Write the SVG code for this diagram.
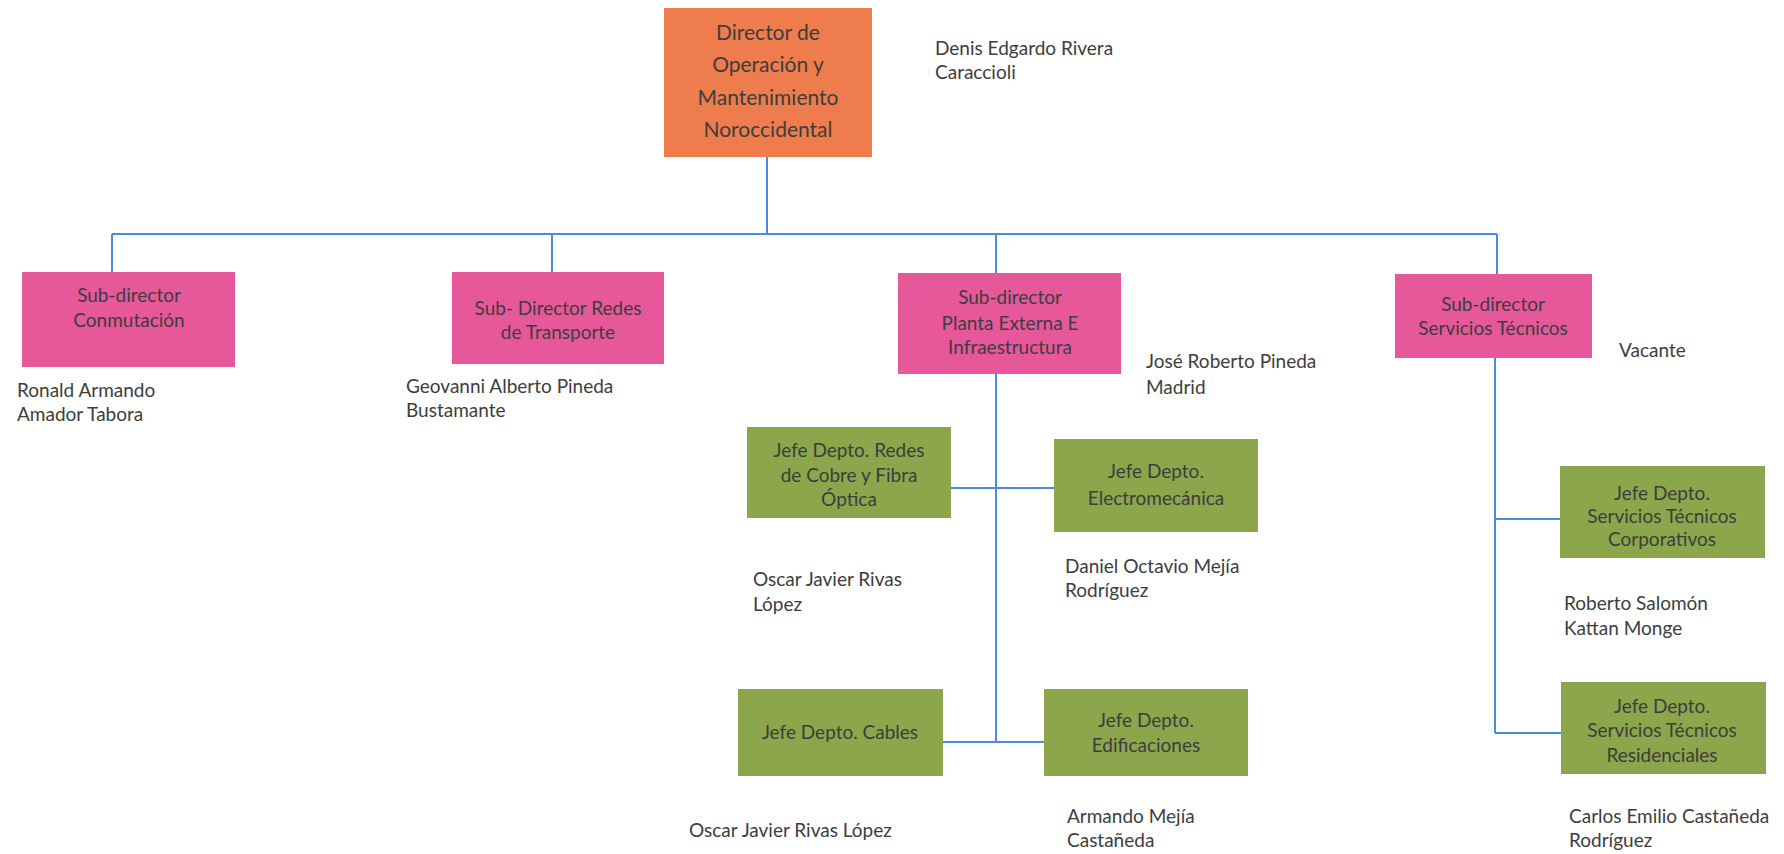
<svg xmlns="http://www.w3.org/2000/svg" width="1784" height="854" viewBox="0 0 1784 854">
<style>
.t{font-family:Lato,"Open Sans","Liberation Sans",sans-serif;fill:#3d3d3d;font-size:19px}
.c{text-anchor:middle}
.d{font-size:21px}
.or{fill:#ef7c4c}
.pk{fill:#e7589b}
.gr{fill:#8ba64b}
.ln{stroke:#4a8be0;stroke-width:2;fill:none}
</style>
<rect width="1784" height="854" fill="#ffffff"/>
<g id="connectors">
<path class="ln" d="M767 156V234M112 234H1497M112 234V272M552 234V272M996 234V273M1497 234V274"/>
<path class="ln" d="M996 374V742M951 488H1054M943 742H1044"/>
<path class="ln" d="M1495 358V733M1495 519H1561M1495 733H1561"/>
</g>
<g id="director">
<rect class="or" x="664" y="8" width="208" height="149"/>
<text class="t c d" x="768" y="40">Director de</text>
<text class="t c d" x="768" y="72">Operación y</text>
<text class="t c d" x="768" y="105">Mantenimiento</text>
<text class="t c d" x="768" y="137">Noroccidental</text>
<text class="t" x="935" y="55">Denis Edgardo Rivera</text>
<text class="t" x="935" y="79">Caraccioli</text>
</g>
<g id="sub-conmutacion">
<rect class="pk" x="22" y="272" width="213" height="95"/>
<text class="t c" x="129" y="302">Sub-director</text>
<text class="t c" x="129" y="327">Conmutación</text>
<text class="t" x="17" y="397">Ronald Armando</text>
<text class="t" x="17" y="421">Amador Tabora</text>
</g>
<g id="sub-transporte">
<rect class="pk" x="452" y="272" width="212" height="92"/>
<text class="t c" x="558" y="315">Sub- Director Redes</text>
<text class="t c" x="558" y="339">de Transporte</text>
<text class="t" x="406" y="393">Geovanni Alberto Pineda</text>
<text class="t" x="406" y="417">Bustamante</text>
</g>
<g id="sub-planta">
<rect class="pk" x="898" y="273" width="223" height="101"/>
<text class="t c" x="1010" y="304">Sub-director</text>
<text class="t c" x="1010" y="330">Planta Externa E</text>
<text class="t c" x="1010" y="354">Infraestructura</text>
<text class="t" x="1146" y="368">José Roberto Pineda</text>
<text class="t" x="1146" y="394">Madrid</text>
</g>
<g id="sub-servicios">
<rect class="pk" x="1395" y="274" width="197" height="84"/>
<text class="t c" x="1493" y="311">Sub-director</text>
<text class="t c" x="1493" y="335">Servicios Técnicos</text>
<text class="t" x="1619" y="357">Vacante</text>
</g>
<g id="jefe-redes">
<rect class="gr" x="747" y="427" width="204" height="91"/>
<text class="t c" x="849" y="457">Jefe Depto. Redes</text>
<text class="t c" x="849" y="482">de Cobre y Fibra</text>
<text class="t c" x="849" y="506">Óptica</text>
<text class="t" x="753" y="586">Oscar Javier Rivas</text>
<text class="t" x="753" y="611">López</text>
</g>
<g id="jefe-electromecanica">
<rect class="gr" x="1054" y="439" width="204" height="93"/>
<text class="t c" x="1156" y="478">Jefe Depto.</text>
<text class="t c" x="1156" y="505">Electromecánica</text>
<text class="t" x="1065" y="573">Daniel Octavio Mejía</text>
<text class="t" x="1065" y="597">Rodríguez</text>
</g>
<g id="jefe-cables">
<rect class="gr" x="738" y="689" width="205" height="87"/>
<text class="t c" x="840" y="739">Jefe Depto. Cables</text>
<text class="t" x="689" y="837">Oscar Javier Rivas López</text>
</g>
<g id="jefe-edificaciones">
<rect class="gr" x="1044" y="689" width="204" height="87"/>
<text class="t c" x="1146" y="727">Jefe Depto.</text>
<text class="t c" x="1146" y="752">Edificaciones</text>
<text class="t" x="1067" y="823">Armando Mejía</text>
<text class="t" x="1067" y="847">Castañeda</text>
</g>
<g id="jefe-corporativos">
<rect class="gr" x="1560" y="466" width="205" height="92"/>
<text class="t c" x="1662" y="500">Jefe Depto.</text>
<text class="t c" x="1662" y="523">Servicios Técnicos</text>
<text class="t c" x="1662" y="546">Corporativos</text>
<text class="t" x="1564" y="610">Roberto Salomón</text>
<text class="t" x="1564" y="635">Kattan Monge</text>
</g>
<g id="jefe-residenciales">
<rect class="gr" x="1561" y="682" width="205" height="92"/>
<text class="t c" x="1662" y="713">Jefe Depto.</text>
<text class="t c" x="1662" y="737">Servicios Técnicos</text>
<text class="t c" x="1662" y="762">Residenciales</text>
<text class="t" x="1569" y="823">Carlos Emilio Castañeda</text>
<text class="t" x="1569" y="847">Rodríguez</text>
</g>
</svg>
